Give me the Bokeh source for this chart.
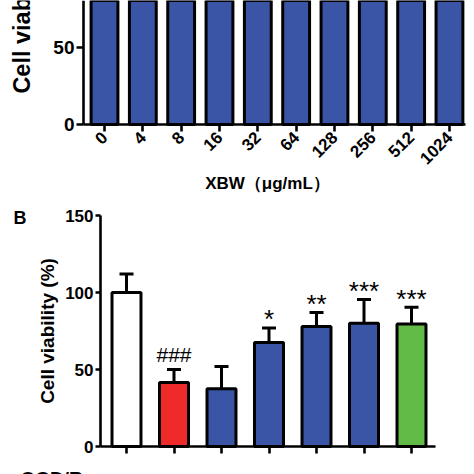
from math import pi
from bokeh.plotting import figure
from bokeh.models import (Range1d, FixedTicker, Label, Whisker, TeeHead,
                          ColumnDataSource, LinearAxis)
from bokeh.core.properties import value
from bokeh.embed import file_html
from bokeh.resources import INLINE

# ---------------- data ----------------
# Panel A: XBW concentrations (upper part of this panel is cut off in the source image)
conc_labels = ["0", "4", "8", "16", "32", "64", "128", "256", "512", "1024"]
conc_viability = [100, 100, 100, 100, 100, 100, 100, 100, 100, 100]
a_yticks = [0, 50, 100, 150]

# Panel B: OGD/R groups
ogdr_signs = ["\u2212", "+", "+", "+", "+", "+", "+"]
b_viability = [100, 41.5, 37.5, 67.5, 78, 80, 79.5]
b_sd = [12, 8.5, 14.5, 9.5, 9, 15.5, 11]
b_marks = ["", "###", "", "*", "**", "***", "***"]
b_yticks = [0, 50, 100, 150]

# ---------------- style / layout ----------------
FONT = "Liberation Sans"
BLUE = "#3a55a5"
b_colors = ["#ffffff", "#ee2a2a", BLUE, BLUE, BLUE, BLUE, "#62bb46"]
W = H = 474

# pixel anchors of the two panels (category centre / zero line and scale)
A_X0, A_DX, A_Y0, A_DY = 104.0, 38.33, 124.0, 1.54
B_X0, B_DX, B_Y0, B_DY = 126.0, 47.5, 446.0, 1.54


def ax_(px): return (px - A_X0) / A_DX
def ay_(py): return (A_Y0 - py) / A_DY
def bx_(px): return (px - B_X0) / B_DX
def by_(py): return (B_Y0 - py) / B_DY


p = figure(width=W, height=H, output_backend="svg", toolbar_location=None,
           x_range=Range1d(bx_(0), bx_(W)), y_range=Range1d(by_(H), by_(0)),
           x_axis_type=None, y_axis_type=None,
           min_border_left=0, min_border_right=0, min_border_top=0, min_border_bottom=0)
p.extra_x_ranges = {"ax": Range1d(ax_(0), ax_(W))}
p.extra_y_ranges = {"ay": Range1d(ay_(H), ay_(0))}
p.outline_line_color = None


def make_axis(cls_kw, tick_size):
    a = LinearAxis(**cls_kw)
    a.axis_line_width = 2.6
    a.major_tick_line_width = 2.6
    a.major_tick_in = 0
    a.minor_tick_line_color = None
    a.major_label_text_font = FONT
    a.major_label_text_font_style = "bold"
    a.major_label_text_color = "black"
    a.major_label_text_font_size = tick_size
    return a


# ---------------- panel A ----------------
xa = list(range(len(conc_labels)))
p.vbar(x=xa, top=conc_viability, bottom=0, width=0.7, fill_color=BLUE,
       line_color="black", line_width=3, x_range_name="ax", y_range_name="ay")

ya_axis = make_axis(dict(x_range_name="ax", y_range_name="ay", fixed_location=ax_(83),
                         bounds=(0, 150), ticker=FixedTicker(ticks=a_yticks)), "19px")
ya_axis.major_tick_out = 7
ya_axis.major_label_standoff = 2
p.add_layout(ya_axis, "left")

xa_axis = make_axis(dict(x_range_name="ax", y_range_name="ay", fixed_location=0,
                         bounds=(ax_(83), ax_(465)), ticker=FixedTicker(ticks=xa)), "17px")
xa_axis.major_label_overrides = {i: s for i, s in enumerate(conc_labels)}
xa_axis.major_label_orientation = pi / 4
xa_axis.major_tick_out = 7
xa_axis.major_label_standoff = 3
p.add_layout(xa_axis, "below")

p.add_layout(Label(x=ax_(21), y=ay_(3), x_range_name="ax", y_range_name="ay",
                   text="Cell viability (%)", angle=pi / 2,
                   text_align="center", text_baseline="alphabetic",
                   text_font=FONT, text_font_style="bold", text_font_size="23.5px",
                   text_color="black"))
p.add_layout(Label(x=ax_(267), y=ay_(183), x_range_name="ax", y_range_name="ay",
                   text="XBW\uff08\u03bcg/mL\uff09", text_align="center",
                   text_baseline="alphabetic", text_font=FONT, text_font_style="bold",
                   text_font_size="17px", text_color="black"))

# ---------------- panel B ----------------
xb = list(range(len(b_viability)))
p.vbar(x=xb, top=b_viability, bottom=0, width=0.61, fill_color=b_colors,
       line_color="black", line_width=3)
tops = [v + s for v, s in zip(b_viability, b_sd)]
src = ColumnDataSource(dict(x=xb, lower=b_viability, upper=tops))
p.add_layout(Whisker(source=src, base="x", lower="lower", upper="upper",
                     line_width=3, line_color="black",
                     upper_head=TeeHead(size=14, line_width=3, line_color="black"),
                     lower_head=None))

hash_x = [x for x, m in zip(xb, b_marks) if m.startswith("#")]
hash_y = [t + 10 for t, m in zip(tops, b_marks) if m.startswith("#")]
hash_t = [m for m in b_marks if m.startswith("#")]
star_x = [x for x, m in zip(xb, b_marks) if m.startswith("*")]
star_y = [t + 5.5 for t, m in zip(tops, b_marks) if m.startswith("*")]
star_t = [m for m in b_marks if m.startswith("*")]
p.text(x=hash_x, y=hash_y, text=hash_t, text_align="center", text_baseline="alphabetic",
       text_font=value(FONT), text_font_size="21px", text_color="black")
p.text(x=star_x, y=star_y, text=star_t, text_align="center", text_baseline="alphabetic",
       text_font=value(FONT), text_font_size="26px", text_color="black")

yb_axis = make_axis(dict(fixed_location=bx_(100), bounds=(0, 150),
                         ticker=FixedTicker(ticks=b_yticks)), "17px")
yb_axis.major_tick_out = 5
yb_axis.major_label_standoff = 2
p.add_layout(yb_axis, "left")

xb_axis = make_axis(dict(fixed_location=0, bounds=(bx_(100), bx_(435)),
                         ticker=FixedTicker(ticks=xb)), "16px")
xb_axis.major_tick_out = 7
xb_axis.major_label_overrides = {i: s for i, s in enumerate(ogdr_signs)}
xb_axis.major_label_text_font_style = "normal"
xb_axis.major_label_standoff = 18
p.add_layout(xb_axis, "below")

p.add_layout(Label(x=bx_(47), y=75, text="Cell viability (%)", angle=pi / 2,
                   text_align="center", text_baseline="alphabetic",
                   text_font=FONT, text_font_style="bold", text_font_size="19px",
                   text_color="black"))
p.add_layout(Label(x=bx_(13), y=by_(217), text="B", text_align="left",
                   text_baseline="alphabetic", text_font=FONT, text_font_style="bold",
                   text_font_size="18px", text_color="black"))
p.add_layout(Label(x=bx_(20), y=by_(478), text="OGD/R", text_align="left",
                   text_baseline="alphabetic", text_font=FONT, text_font_style="bold",
                   text_font_size="19px", text_color="black"))

open("out.html", "w").write(file_html(p, INLINE))
